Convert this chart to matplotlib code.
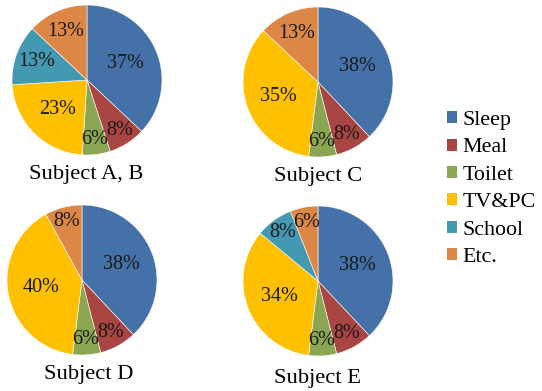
import numpy as np
import matplotlib.pyplot as plt
from matplotlib.patches import Patch

plt.rcParams['font.family'] = ['Liberation Serif', 'DejaVu Serif']

categories = ['Sleep', 'Meal', 'Toilet', 'TV&PC', 'School', 'Etc.']
colors = ['#4571A9', '#A94543', '#8AA652', '#FFC000', '#4399B1', '#DD8746']

subjects = ['Subject A, B', 'Subject C', 'Subject D', 'Subject E']
shares = [
    [37, 8, 6, 23, 13, 13],
    [38, 8, 6, 35, 0, 13],
    [38, 8, 6, 40, 0, 8],
    [38, 8, 6, 34, 8, 6],
]

W, H = 542, 391
fig = plt.figure(figsize=(W / 100, H / 100), dpi=100)

# pie centres / radius in pixels, caption position in pixels
centres = [(87, 80), (318, 82), (82, 280), (318, 281)]
caption_y = [174, 176, 375, 378]
caption_x = [86, 318, 89, 318]
R = 75


def label_dist(p):
    if p >= 20:
        return 0.56
    if p >= 10:
        return 0.71
    return 0.8


for name, vals, (cx, cy), ty, tx in zip(subjects, shares, centres, caption_y, caption_x):
    ax = fig.add_axes([(cx - R) / W, (H - cy - R) / H, 2 * R / W, 2 * R / H])
    keep = [i for i, v in enumerate(vals) if v > 0]
    v = [vals[i] for i in keep]
    wedges, _ = ax.pie(v, colors=[colors[i] for i in keep], startangle=90,
                       counterclock=False, radius=1,
                       wedgeprops=dict(edgecolor='white', linewidth=0.4))
    for w, p in zip(wedges, v):
        ang = np.deg2rad((w.theta1 + w.theta2) / 2)
        d = label_dist(p)
        ax.text(d * np.cos(ang), d * np.sin(ang), f'{p}%', ha='center',
                va='center', fontsize=14.5, color='#1a1a1a')
    ax.set_xlim(-1, 1)
    ax.set_ylim(-1, 1)
    ax.set_aspect('equal')
    ax.axis('off')
    fig.text(tx / W, 1 - ty / H, name, ha='center', va='center', fontsize=16.2)

handles = [Patch(facecolor=c, edgecolor='none') for c in colors]
fig.legend(handles, categories, loc='center left',
           bbox_to_anchor=(447 / W, 1 - 189 / H), frameon=False,
           fontsize=15.8, handlelength=0.45, handleheight=0.45,
           handletextpad=0.25, labelspacing=0.38, borderpad=0,
           borderaxespad=0)

fig.savefig('out.png', dpi=100)
